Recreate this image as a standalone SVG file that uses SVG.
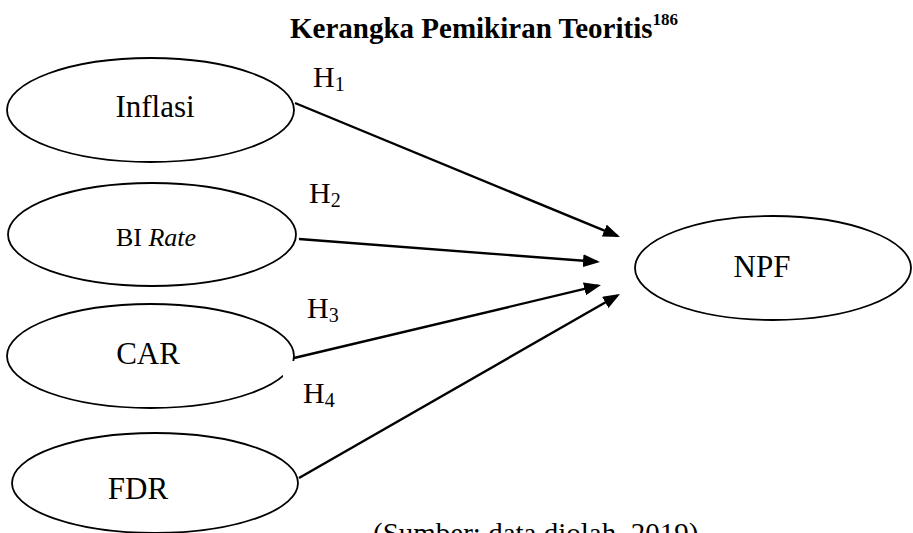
<svg xmlns="http://www.w3.org/2000/svg" width="913" height="533" viewBox="0 0 913 533">
<style>
  text { font-family: "Liberation Serif", "Times New Roman", serif; fill: #000; }
  .node ellipse { fill: none; stroke: #000; stroke-width: 1.8; }
  .lbl { font-size: 31px; text-anchor: middle; }
  .h { font-size: 30px; }
  .sub { font-size: 20px; }
  .conn path { fill: none; stroke: #000; stroke-width: 2.4; marker-end: url(#arr); }
</style>
<defs>
  <marker id="arr" markerUnits="userSpaceOnUse" markerWidth="17" markerHeight="13" viewBox="0 0 17 13" refX="14" refY="6.5" orient="auto">
    <path d="M0,0 L17,6.5 L0,13 z" fill="#000"/>
  </marker>
</defs>
<rect width="913" height="533" fill="#fff"/>

<text x="290" y="38" style="font-size:29px;font-weight:bold">Kerangka Pemikiran Teoritis<tspan style="font-size:17px" dy="-13">186</tspan></text>

<g id="node-inflasi" class="node">
  <ellipse cx="150.5" cy="110" rx="143.5" ry="52"/>
  <text class="lbl" x="155" y="117">Inflasi</text>
</g>
<g id="node-birate" class="node">
  <ellipse cx="152" cy="234.5" rx="144" ry="51.5"/>
  <text class="lbl" x="156" y="246" style="font-size:26px">BI <tspan font-style="italic">Rate</tspan></text>
</g>
<g id="node-car" class="node">
  <ellipse cx="150.5" cy="356" rx="143.5" ry="52"/>
  <text class="lbl" x="148" y="364">CAR</text>
</g>
<g id="node-fdr" class="node">
  <ellipse cx="155" cy="483" rx="143" ry="50"/>
  <text class="lbl" x="138" y="499">FDR</text>
</g>
<g id="node-npf" class="node">
  <ellipse cx="773" cy="268" rx="138" ry="52"/>
  <text class="lbl" x="762" y="277">NPF</text>
</g>

<g id="connectors" class="conn">
  <path d="M295,103 L617.2,235.9"/>
  <path d="M299,239 L597,261.8"/>
  <path d="M294,358 L598.1,285.7"/>
  <path d="M299,478 L617.4,295.5"/>
</g>

<g id="hyp-labels">
  <text class="h" x="313" y="87">H<tspan class="sub" dy="4">1</tspan></text>
  <text class="h" x="309" y="203">H<tspan class="sub" dy="4">2</tspan></text>
  <text class="h" x="307" y="318">H<tspan class="sub" dy="4">3</tspan></text>
  <rect x="283" y="361" width="70" height="50" fill="#fff"/>
  <text class="h" x="303" y="403">H<tspan class="sub" dy="4">4</tspan></text>
</g>

<text x="373" y="543" style="font-size:29px">(Sumber: data diolah, 2019)</text>
</svg>
